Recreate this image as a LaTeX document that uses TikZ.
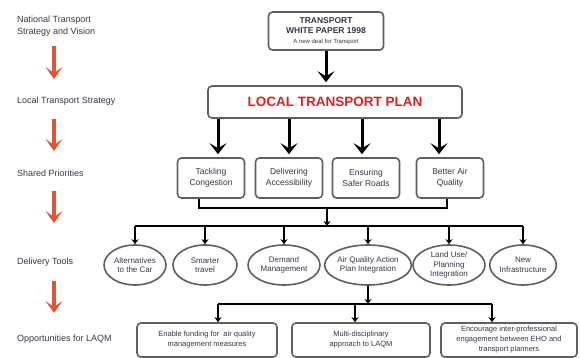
\documentclass[tikz,border=0pt]{standalone}
\usepackage{fontspec}
\setmainfont{Liberation Sans}
\usetikzlibrary{arrows.meta}
\usetikzlibrary{shapes.geometric}
\tikzset{>=latex}
\definecolor{stagered}{RGB}{226,84,52}
\definecolor{plantext}{RGB}{204,40,40}
\definecolor{boxgrey}{RGB}{95,95,95}
\definecolor{textgrey}{RGB}{60,52,66}
\def\linethickness{1.6pt}
\tikzset{
  stage/.style={anchor=west, align=left, text=textgrey, font=\fontsize{9}{12}\selectfont, inner sep=0pt},
  rbox/.style={draw=boxgrey, line width=\linethickness, rounded corners=4pt, fill=white, align=center, text=textgrey, font=\fontsize{8.5}{11}\selectfont, inner sep=0pt},
  oval/.style={ellipse, draw=boxgrey, line width=\linethickness, fill=white, align=center, text=textgrey, font=\fontsize{8}{9.5}\selectfont, inner sep=0pt},
  bigarrow/.style={-{Stealth[length=11pt,width=17pt,inset=5pt]}, line width=3pt},
  smallarrow/.style={-{Stealth[length=5pt,width=7pt,inset=1.5pt]}, line width=1.4pt},
  link/.style={line width=1.6pt},
  stagearrow/.style={stagered, -{Stealth[length=12pt,width=17pt,inset=6pt]}, line width=3.2pt},
}

\begin{document}
\begin{tikzpicture}[x=1pt, y=-1pt]
    \useasboundingbox (0,0) rectangle (580,358);
    % stages on the left
    \node[stage] (national) at (17,26) {National Transport\\Strategy and Vision};
    \node[stage] (localstr) at (17,101) {Local Transport Strategy};
    \node[stage] (shared) at (17,173) {Shared Priorities};
    \node[stage] (delivery) at (17,262) {Delivery Tools};
    \node[stage] (laqm) at (17,339) {Opportunities for LAQM};
    \foreach \i/\ya/\yb in {1/46/79, 2/119/151, 3/191/223, 4/281/313} {
        \coordinate (s\i) at (54,\ya);
        \coordinate (e\i) at (54,\yb);
        \draw[stagearrow] (s\i) -- (e\i);
    }

    % white paper and plan
    \node[rbox, minimum width=115pt, minimum height=38pt, font=\fontsize{8.5}{10.5}\selectfont\bfseries] (paper) at (326,31)
        {TRANSPORT\\WHITE PAPER 1998\\[-1pt]{\fontsize{6}{7}\selectfont\mdseries A new deal for Transport}};
    \node[rbox, minimum width=254pt, minimum height=32pt, text=plantext, font=\fontsize{13.5}{15}\selectfont\bfseries] (plan) at (335,102) {LOCAL TRANSPORT PLAN};
    \draw[bigarrow] (paper.south -| paper) -- ([yshift=3pt]plan.north -| paper);

    % shared priorities
    \node[rbox, minimum width=67pt, minimum height=40pt] (congestion) at (211,178) {Tackling\\Congestion};
    \node[rbox, minimum width=67pt, minimum height=40pt] (access) at (289,178) {Delivering\\Accessibility};
    \node[rbox, minimum width=67pt, minimum height=40pt] (safety) at (366,178) {Ensuring\\Safer Roads};
    \node[rbox, minimum width=67pt, minimum height=40pt] (airq) at (450,178) {Better Air\\Quality};
    \foreach \n/\dx in {congestion/7,access/0,safety/-4,airq/-11}
        \draw[bigarrow] ([xshift=\dx pt]plan.south -| \n) -- ([xshift=\dx pt,yshift=3pt]\n.north);
    \draw[link] ([xshift=-12pt]congestion.south) -- ++(0,9) -| ([xshift=-3pt]airq.south);

    % delivery tools
    \coordinate (merge) at (327,207);
    \coordinate (fanL) at (135,226);
    \coordinate (fanR) at (523,226);
    \draw[smallarrow] (merge) -- (merge |- fanL);
    \draw[link] (fanL) -- (fanR);
    \node[oval, minimum width=62pt, minimum height=40pt] (altcar) at (135,265) {Alternatives\\to the Car};
    \node[oval, minimum width=64pt, minimum height=40pt] (smarter) at (205,265) {Smarter\\travel};
    \node[oval, minimum width=72pt, minimum height=40pt] (demand) at (284,265) {Demand\\Management};
    \node[oval, minimum width=80pt, minimum height=40pt] (aqap) at (368,265) {Air Quality Action\\Plan Integration};
    \node[oval, minimum width=72pt, minimum height=40pt] (landuse) at (449,265) {Land Use/\\Planning\\Integration};
    \node[oval, minimum width=62pt, minimum height=40pt] (newinf) at (523,265) {New\\Infrastructure};
    \foreach \n in {altcar,smarter,demand,aqap,landuse,newinf}
        \draw[smallarrow] (fanL -| \n) -- (\n.north);

    % opportunities
    \coordinate (fanA) at (218,304);
    \coordinate (fanB) at (355,304);
    \coordinate (fanC) at (492,304);
    \draw[smallarrow] (aqap.south) -- (aqap.south |- fanA);
    \draw[link] (fanA) -- (fanC);
    \node[rbox, minimum width=140pt, minimum height=34pt, font=\fontsize{7.5}{10}\selectfont] (funding) at (207,340) {Enable funding for\ \ air quality\\management measures};
    \node[rbox, minimum width=138pt, minimum height=34pt, font=\fontsize{7.5}{10}\selectfont] (multi) at (361,340) {Multi-disciplinary\\approach to LAQM};
    \node[rbox, minimum width=136pt, minimum height=34pt, font=\fontsize{7.5}{10}\selectfont] (engage) at (509,340) {Encourage inter-professional\\engagement between EHO and\\transport planners};
    \draw[smallarrow] (fanA) -- (fanA |- funding.north);
    \draw[smallarrow] (fanB) -- (fanB |- multi.north);
    \draw[smallarrow] (fanC) -- (fanC |- engage.north);
\end{tikzpicture}
\end{document}
